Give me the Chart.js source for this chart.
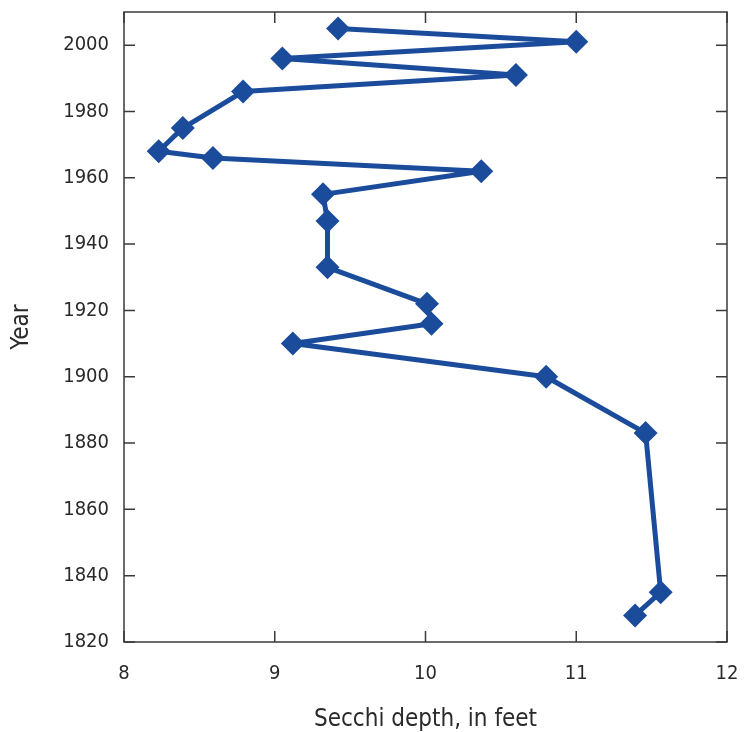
<!DOCTYPE html>
<html>
<head>
<meta charset="utf-8">
<script src="https://cdn.jsdelivr.net/npm/chart.js@4/dist/chart.umd.min.js"></script>
<style>
    html, body { margin: 0; padding: 0; background: #fff; }
    #wrap { width: 745px; height: 732px; position: relative; }
</style>
</head>
<body>
<div id="wrap"><canvas id="secchiChart"></canvas></div>
<script>
// Secchi depth (feet) by year, in the order the line is drawn
const anos = [2005, 2001, 1996, 1991, 1986, 1975, 1968, 1966, 1962, 1955, 1947, 1933, 1922, 1916, 1910, 1900, 1883, 1835, 1828];
const profundidade = [9.42, 11.0, 9.05, 10.6, 8.79, 8.39, 8.23, 8.59, 10.37, 9.32, 9.35, 9.35, 10.01, 10.04, 9.12, 10.8, 11.46, 11.56, 11.39];

const xTicks = [8, 9, 10, 11, 12];
const yTicks = [1820, 1840, 1860, 1880, 1900, 1920, 1940, 1960, 1980, 2000];

const fonte = "'DejaVu Sans Condensed', 'DejaVu Sans', sans-serif";
const azul = '#1b4b9b';
const corTexto = '#2a2a2a';
const corEixo = '#3a3a3a';

// moldura completa com marcas de escala para dentro
const moldura = {
    id: 'moldura',
    afterDraw(chart) {
        const { ctx, chartArea: a, scales } = chart;
        const tam = 11;
        ctx.save();
        ctx.strokeStyle = corEixo;
        ctx.lineWidth = 1.5;
        ctx.strokeRect(a.left, a.top, a.right - a.left, a.bottom - a.top);
        ctx.beginPath();
        xTicks.forEach(v => {
            const px = scales.x.getPixelForValue(v);
            ctx.moveTo(px, a.bottom); ctx.lineTo(px, a.bottom - tam);
            ctx.moveTo(px, a.top); ctx.lineTo(px, a.top + tam);
        });
        yTicks.forEach(v => {
            const py = scales.y.getPixelForValue(v);
            ctx.moveTo(a.left, py); ctx.lineTo(a.left + tam, py);
            ctx.moveTo(a.right, py); ctx.lineTo(a.right - tam, py);
        });
        ctx.stroke();
        ctx.restore();
    }
};

const pontos = anos.map((ano, i) => ({ x: profundidade[i], y: ano }));

new Chart(document.getElementById('secchiChart'), {
    type: 'scatter',
    data: {
        datasets: [{
            data: pontos,
            showLine: true,
            borderColor: azul,
            borderWidth: 5,
            borderJoinStyle: 'round',
            backgroundColor: azul,
            pointStyle: 'rectRot',
            pointRadius: 12,
            pointHoverRadius: 12,
            pointBorderWidth: 0
        }]
    },
    options: {
        responsive: true,
        maintainAspectRatio: false,
        animation: false,
        layout: { padding: { top: 12, right: 18, bottom: 0, left: 0 } },
        plugins: {
            legend: { display: false },
            tooltip: { enabled: false }
        },
        scales: {
            x: {
                type: 'linear',
                min: 8,
                max: 12,
                afterFit: s => {
                    s.height = 90;
                    s.paddingLeft = 0;
                    s.paddingRight = 0;
                },
                grid: { display: false, drawTicks: false },
                border: { display: false },
                ticks: {
                    stepSize: 1,
                    padding: 22,
                    color: corTexto,
                    font: { family: fonte, size: 20, lineHeight: 1 },
                    callback: v => String(v)
                },
                title: {
                    display: true,
                    text: 'Secchi depth, in feet',
                    color: corTexto,
                    font: { family: fonte, size: 24, lineHeight: 1 },
                    padding: { top: 0, bottom: 0 }
                }
            },
            y: {
                type: 'linear',
                min: 1820,
                max: 2010,
                afterFit: s => {
                    s.width = 124;
                    s.paddingTop = 0;
                    s.paddingBottom = 0;
                },
                grid: { display: false, drawTicks: false },
                border: { display: false },
                ticks: {
                    stepSize: 20,
                    includeBounds: false,
                    padding: 15,
                    color: corTexto,
                    font: { family: fonte, size: 20, lineHeight: 1 },
                    callback: v => String(v)
                },
                title: {
                    display: true,
                    text: 'Year',
                    color: corTexto,
                    font: { family: fonte, size: 24, lineHeight: 1 },
                    padding: { top: 10, bottom: 0 }
                }
            }
        }
    },
    plugins: [moldura]
});
</script>
</body>
</html>
